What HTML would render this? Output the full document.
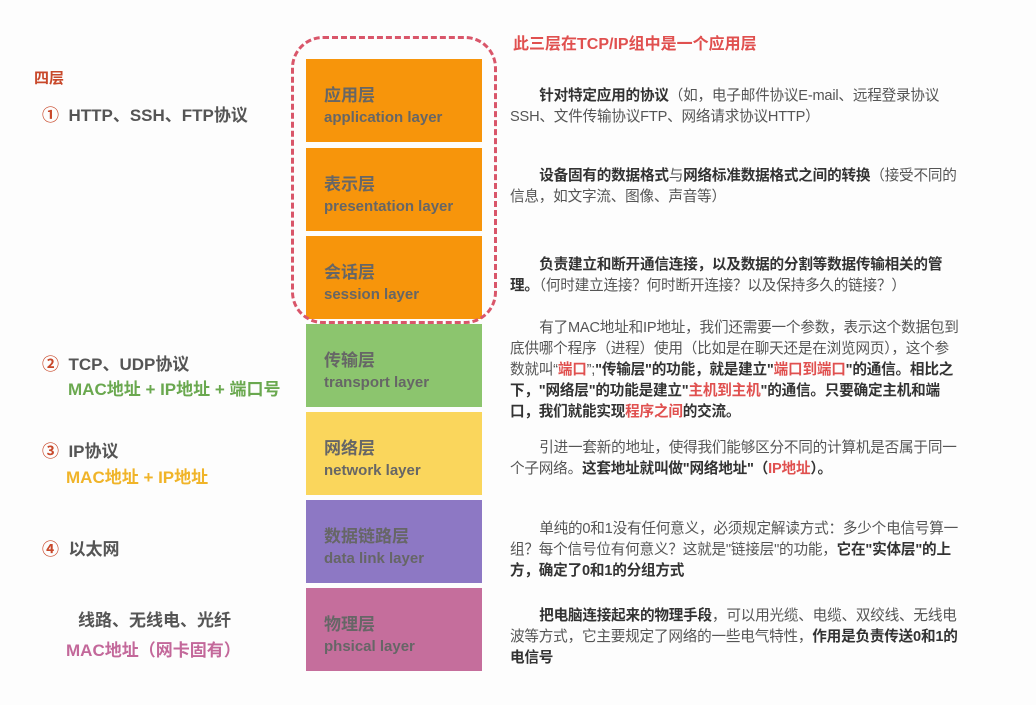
<!DOCTYPE html>
<html><head><meta charset="utf-8"><style>
body{margin:0;width:1036px;height:705px;background:#fff;position:relative;overflow:hidden;font-family:"Liberation Sans","Noto Sans CJK SC",sans-serif;}
.a{position:absolute;white-space:nowrap;}
.box{position:absolute;left:306px;width:176px;height:83px;color:#666;}
.box .cn{position:absolute;left:18px;top:22px;font-size:17px;font-weight:bold;}
.box .en{position:absolute;left:18px;top:50px;font-size:15px;font-weight:bold;}
.d{position:absolute;left:510px;width:452px;font-size:14.6px;line-height:21px;color:#555;text-indent:2em;letter-spacing:-0.2px;}
.b{font-weight:bold;color:#333;}
.r{color:#e0504f;font-weight:bold;}
.lt{font-size:17px;font-weight:bold;color:#555;}
</style></head><body>
<div class="a" style="left:0;top:0;width:1036px;height:705px;background:#fdfdfd"></div>
<div class="a" style="left:513px;top:30px;font-size:16px;font-weight:bold;color:#e0504f">此三层在TCP/IP组中是一个应用层</div>
<div class="a" style="left:34px;top:67px;font-size:15px;font-weight:bold;color:#c8482a">四层</div>
<div class="a lt" style="left:42px;top:101px"><span style="color:#c8482a">①</span>&nbsp;&nbsp;HTTP、SSH、FTP协议</div>
<div class="a lt" style="left:42px;top:350px"><span style="color:#c8482a">②</span>&nbsp;&nbsp;TCP、UDP协议</div>
<div class="a" style="left:68px;top:375px;font-size:17px;font-weight:bold;color:#6aa84f">MAC地址 + IP地址 + 端口号</div>
<div class="a lt" style="left:42px;top:437px"><span style="color:#c8482a">③</span>&nbsp;&nbsp;IP协议</div>
<div class="a" style="left:66px;top:463px;font-size:17px;font-weight:bold;color:#f0b429">MAC地址 + IP地址</div>
<div class="a lt" style="left:42px;top:535px"><span style="color:#c8482a">④</span>&nbsp;&nbsp;以太网</div>
<div class="a lt" style="left:78px;top:606px">线路、无线电、光纤</div>
<div class="a" style="left:66px;top:636px;font-size:17px;font-weight:bold;color:#c3689a">MAC地址（网卡固有）</div>

<div class="box" style="top:59px;background:#f7950b"><div class="cn">应用层</div><div class="en">application layer</div></div>
<div class="box" style="top:148px;background:#f7950b"><div class="cn">表示层</div><div class="en">presentation layer</div></div>
<div class="box" style="top:236px;background:#f7950b"><div class="cn">会话层</div><div class="en">session layer</div></div>
<div class="box" style="top:324px;background:#8cc56e"><div class="cn">传输层</div><div class="en">transport layer</div></div>
<div class="box" style="top:412px;background:#fad65c"><div class="cn">网络层</div><div class="en">network layer</div></div>
<div class="box" style="top:500px;background:#8d78c4"><div class="cn">数据链路层</div><div class="en">data link layer</div></div>
<div class="box" style="top:588px;background:#c56e9c"><div class="cn">物理层</div><div class="en">phsical layer</div></div>
<div class="a" style="left:291px;top:36px;width:200px;height:282px;border:3px dashed #d9566a;border-radius:32px;"></div>

<div class="d" style="top:86px"><span class="b">针对特定应用的协议</span>（如，电子邮件协议E-mail、远程登录协议SSH、文件传输协议FTP、网络请求协议HTTP）</div>
<div class="d" style="top:166px"><span class="b">设备固有的数据格式</span>与<span class="b">网络标准数据格式之间的转换</span>（接受不同的信息，如文字流、图像、声音等）</div>
<div class="d" style="top:255px"><span class="b">负责建立和断开通信连接，以及数据的分割等数据传输相关的管理。</span>（何时建立连接？何时断开连接？以及保持多久的链接？）</div>
<div class="d" style="top:318px">有了MAC地址和IP地址，我们还需要一个参数，表示这个数据包到底供哪个程序（进程）使用（比如是在聊天还是在浏览网页），这个参数就叫“<span class="r">端口</span>”;<span class="b">"传输层"的功能，就是建立"<span class="r">端口到端口</span>"的通信。相比之下，"网络层"的功能是建立"<span class="r">主机到主机</span>"的通信。只要确定主机和端口，我们就能实现<span class="r">程序之间</span>的交流。</span></div>
<div class="d" style="top:438px">引进一套新的地址，使得我们能够区分不同的计算机是否属于同一个子网络。<span class="b">这套地址就叫做"网络地址"（<span class="r">IP地址</span>）。</span></div>
<div class="d" style="top:519px">单纯的0和1没有任何意义，必须规定解读方式：多少个电信号算一组？每个信号位有何意义？这就是"链接层"的功能，<span class="b">它在"实体层"的上方，确定了0和1的分组方式</span></div>
<div class="d" style="top:606px"><span class="b">把电脑连接起来的物理手段</span>，可以用光缆、电缆、双绞线、无线电波等方式，它主要规定了网络的一些电气特性，<span class="b">作用是负责传送0和1的电信号</span></div>
</body></html>
